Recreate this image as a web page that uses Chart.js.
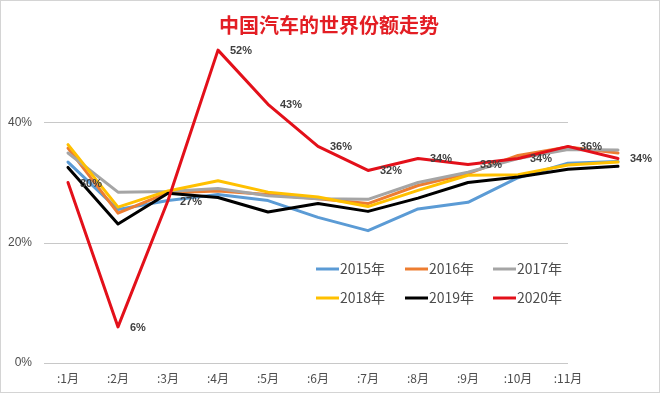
<!DOCTYPE html>
<html>
<head>
<meta charset="utf-8">
<script src="https://cdn.jsdelivr.net/npm/chart.js@4/dist/chart.umd.min.js"></script>
<style>
html,body{margin:0;padding:0;background:#fff;}
#wrap{position:relative;width:660px;height:394px;}
</style>
</head>
<body>
<div id="wrap"><canvas id="c" width="660" height="394"></canvas></div>
<script>
const titleText = '中国汽车的世界份额走势';
const months = [':1月', ':2月', ':3月', ':4月', ':5月', ':6月', ':7月', ':8月', ':9月', ':10月', ':11月', ''];
const seriesNames = ['2015年', '2016年', '2017年', '2018年', '2019年', '2020年'];
const s2015 = [33.4, 25.5, 27.0, 28.0, 27.0, 24.2, 22.0, 25.6, 26.7, 30.8, 33.2, 33.5];
const s2016 = [35.7, 24.9, 28.3, 28.6, 28.0, 27.3, 26.5, 29.5, 31.5, 34.5, 35.9, 34.9];
const s2017 = [34.9, 28.4, 28.5, 29.0, 27.8, 27.3, 27.2, 30.0, 31.7, 34.0, 35.5, 35.4];
const s2018 = [36.3, 25.9, 28.6, 30.3, 28.4, 27.6, 26.0, 28.7, 31.2, 31.3, 32.9, 33.4];
const s2019 = [32.5, 23.1, 28.2, 27.5, 25.1, 26.5, 25.2, 27.4, 30.0, 30.9, 32.2, 32.7];
const s2020 = [30, 6, 27, 52, 43, 36, 32, 34, 33, 34, 36, 34];
const yTickValues = [0, 20, 40];
const yTickLabels = ['0%', '20%', '40%'];

const colors = ['#5B9BD5', '#ED7D31', '#A5A5A5', '#FFC000', '#000000', '#E3101A'];
const allSeries = [s2015, s2016, s2017, s2018, s2019, s2020];

const datasets = allSeries.map((d, i) => ({
  label: seriesNames[i],
  data: d,
  borderColor: colors[i],
  backgroundColor: colors[i],
  borderWidth: 3,
  pointRadius: 0,
  tension: 0,
  fill: false,
  borderJoinStyle: 'round',
  borderCapStyle: 'round',
  order: allSeries.length - 1 - i
}));

const bgPlugin = {
  id: 'bg',
  beforeDatasetsDraw(chart) {
    const ctx = chart.ctx;
    const yScale = chart.scales.y;
    const pts = chart.getDatasetMeta(0).data;
    const left = chart.chartArea.left + 1;
    const right = pts[10].x;
    ctx.save();
    ctx.strokeStyle = '#D4D4D4';
    ctx.lineWidth = 1;
    ctx.strokeRect(0.5, 0.5, chart.width - 1, chart.height - 2);
    ctx.strokeStyle = '#C8C8C8';
    ctx.lineWidth = 1;
    for (let k = 0; k < yTickValues.length; k++) {
      const py = Math.round(yScale.getPixelForValue(yTickValues[k])) + 0.5;
      ctx.beginPath();
      ctx.moveTo(left, py);
      ctx.lineTo(right, py);
      ctx.stroke();
    }
    ctx.restore();
  }
};

const overlayPlugin = {
  id: 'overlay',
  afterDatasetsDraw(chart) {
    const ctx = chart.ctx;
    ctx.save();
    const meta = chart.getDatasetMeta(5);
    ctx.font = 'bold 11px "Liberation Sans", Arial, sans-serif';
    ctx.fillStyle = '#404040';
    ctx.textAlign = 'left';
    ctx.textBaseline = 'middle';
    meta.data.forEach((pt, i) => {
      ctx.fillText(Math.round(s2020[i]) + '%', pt.x + 12, pt.y + 1);
    });
    ctx.font = 'bold 20px "Noto Sans CJK SC", sans-serif';
    ctx.fillStyle = '#E31E24';
    ctx.textAlign = 'center';
    ctx.fillText(titleText, 329, 25);
    ctx.font = '14px "Noto Sans CJK SC", sans-serif';
    ctx.textAlign = 'left';
    const colX = [316, 405, 493];
    const rowY = [269, 298];
    seriesNames.forEach((n, i) => {
      const cx = colX[i % 3], cy = rowY[Math.floor(i / 3)];
      ctx.strokeStyle = colors[i];
      ctx.lineWidth = 3;
      ctx.beginPath();
      ctx.moveTo(cx, cy);
      ctx.lineTo(cx + 23, cy);
      ctx.stroke();
      ctx.fillStyle = '#4D4D4D';
      ctx.fillText(n, cx + 24, cy);
    });
    ctx.restore();
  }
};

new Chart(document.getElementById('c'), {
  type: 'line',
  data: { labels: months, datasets },
  options: {
    responsive: false,
    devicePixelRatio: 1,
    animation: false,
    layout: { padding: { top: 2, right: 17, left: 0, bottom: 0 } },
    plugins: { legend: { display: false }, tooltip: { enabled: false }, title: { display: false } },
    scales: {
      x: {
        type: 'category',
        offset: true,
        grid: { display: false, drawTicks: false },
        border: { display: false },
        ticks: {
          color: '#4D4D4D',
          font: { family: '"Noto Sans CJK SC", sans-serif', size: 12 },
          padding: 8,
          maxRotation: 0,
          autoSkip: false
        },
        afterFit(s) { s.height = 31; s.paddingLeft = 0; s.paddingRight = 0; }
      },
      y: {
        min: 0,
        max: 60,
        grid: { display: false, drawTicks: false },
        border: { display: false },
        ticks: {
          stepSize: 20,
          color: '#4D4D4D',
          font: { family: '"Liberation Sans", Arial, sans-serif', size: 12 },
          padding: 11,
          callback: (v) => yTickLabels[yTickValues.indexOf(v)] || ''
        },
        afterFit(s) { s.width = 43; s.paddingTop = 0; s.paddingBottom = 0; }
      }
    }
  },
  plugins: [bgPlugin, overlayPlugin]
});
</script>
</body>
</html>
